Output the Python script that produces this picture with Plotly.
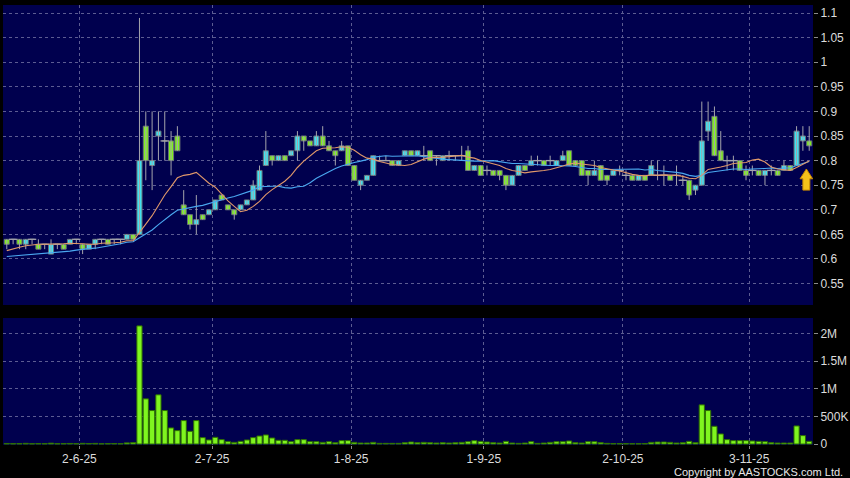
import plotly.graph_objects as go

# ---------------- data ----------------
opens = [.64, .64, .64, .63, .64, .63, .63, .61, .63, .63,
         .63, .64, .63, .62, .63, .64, .64, .64, .64, .64,
         .65, .65, .87, .79, .85, .84, .84, .85, .71, .69,
         .67, .69, .69, .70, .73, .71, .70, .70, .71, .72,
         .74, .79, .81, .80, .81, .81, .82, .85, .84, .83,
         .85, .83, .82, .82, .83, .79, .75, .76, .77, .80,
         .80, .80, .79, .81, .82, .81, .81, .82, .81, .80,
         .81, .81, .81, .82, .78, .79, .78, .78, .78, .77,
         .75, .77, .79, .79, .80, .80, .80, .79, .80, .82,
         .80, .80, .78, .77, .79, .77, .77, .78, .77, .77,
         .76, .77, .77, .77, .77, .77, .77, .76, .76, .74,
         .75, .86, .89, .82, .80, .80, .80, .78, .78, .78,
         .77, .78, .78, .78, .79, .79, .84, .84]
highs = [.64, .64, .64, .64, .64, .64, .63, .64, .63, .63,
         .64, .64, .63, .63, .64, .64, .64, .64, .64, .65,
         .65, 1.09, .90, .90, .90, .90, .86, .87, .74, .69,
         .73, .69, .70, .72, .73, .71, .70, .71, .72, .76,
         .79, .86, .81, .81, .81, .82, .86, .85, .84, .86,
         .87, .84, .82, .84, .83, .79, .76, .77, .81, .81,
         .81, .80, .80, .82, .82, .82, .83, .82, .81, .81,
         .82, .81, .83, .83, .79, .79, .79, .78, .78, .77,
         .77, .79, .79, .81, .81, .80, .81, .80, .82, .82,
         .80, .80, .78, .80, .79, .77, .78, .79, .78, .77,
         .77, .77, .80, .80, .79, .77, .79, .77, .76, .75,
         .92, .92, .91, .86, .81, .81, .80, .79, .79, .78,
         .78, .79, .78, .80, .79, .87, .87, .87]
lows = [.62, .63, .62, .62, .63, .62, .62, .61, .62, .62,
        .63, .63, .61, .62, .62, .63, .63, .63, .63, .64,
        .64, .65, .76, .74, .80, .80, .77, .82, .69, .66,
        .65, .68, .69, .70, .72, .70, .68, .70, .71, .72,
        .74, .79, .79, .80, .80, .81, .80, .82, .83, .83,
        .83, .82, .79, .82, .79, .76, .74, .76, .77, .80,
        .80, .79, .79, .81, .81, .81, .80, .80, .79, .80,
        .80, .80, .80, .78, .78, .77, .77, .77, .76, .74,
        .75, .77, .78, .79, .79, .79, .79, .79, .80, .79,
        .79, .77, .75, .77, .76, .75, .77, .77, .76, .76,
        .76, .76, .77, .76, .75, .76, .75, .75, .72, .73,
        .75, .84, .81, .80, .78, .78, .78, .76, .77, .77,
        .75, .77, .77, .78, .78, .79, .82, .82]
closes = [.63, .64, .63, .64, .64, .62, .63, .63, .63, .62,
          .64, .64, .62, .63, .64, .64, .63, .64, .64, .65,
          .64, .80, .80, .80, .86, .84, .80, .82, .69, .67,
          .68, .68, .70, .72, .72, .70, .69, .71, .72, .75,
          .78, .82, .80, .81, .80, .82, .85, .84, .83, .85,
          .83, .82, .81, .83, .79, .76, .76, .77, .81, .80,
          .80, .79, .80, .82, .81, .82, .81, .80, .81, .81,
          .81, .81, .81, .78, .79, .77, .78, .77, .77, .75,
          .77, .79, .78, .80, .80, .79, .80, .80, .81, .79,
          .79, .77, .77, .78, .76, .76, .78, .78, .77, .76,
          .77, .76, .79, .77, .77, .76, .77, .76, .73, .75,
          .84, .88, .81, .80, .80, .80, .78, .77, .78, .77,
          .78, .78, .77, .79, .78, .86, .85, .83]
volumes = [10000, 6000, 8000, 12000, 5000, 9000, 7000, 15000, 6000, 8000,
           10000, 6000, 12000, 9000, 11000, 5000, 7000, 9000, 6000, 20000,
           25000, 2140000, 818000, 606000, 891000, 606000, 291000, 242000, 424000, 230000,
           424000, 115000, 73000, 121000, 79000, 42000, 30000, 48000, 73000, 115000,
           145000, 164000, 109000, 67000, 67000, 42000, 79000, 79000, 42000, 42000,
           30000, 42000, 24000, 61000, 61000, 30000, 18000, 18000, 30000, 12000,
           12000, 12000, 12000, 24000, 36000, 24000, 30000, 24000, 18000, 24000,
           18000, 24000, 30000, 42000, 61000, 48000, 36000, 24000, 18000, 48000,
           18000, 12000, 18000, 42000, 12000, 18000, 30000, 42000, 42000, 55000,
           24000, 18000, 42000, 42000, 24000, 12000, 8000, 8000, 6000, 6000,
           6000, 8000, 30000, 36000, 36000, 30000, 18000, 24000, 48000, 24000,
           709000, 606000, 321000, 182000, 79000, 61000, 61000, 61000, 55000, 48000,
           42000, 24000, 18000, 18000, 18000, 327000, 152000, 48000]
ma10 = [.617, .621, .624, .627, .629, .630, .630, .630, .631, .631,
        .632, .632, .631, .630, .630, .632, .632, .633, .634, .637,
        .637, .653, .671, .688, .710, .730, .747, .765, .770, .772,
        .776, .764, .754, .746, .732, .718, .707, .696, .699, .707,
        .717, .731, .741, .750, .758, .770, .786, .799, .810, .820,
        .825, .825, .826, .828, .827, .821, .812, .805, .803, .798,
        .795, .792, .791, .790, .792, .798, .803, .806, .806, .807,
        .808, .810, .811, .807, .805, .800, .797, .794, .790, .784,
        .780, .778, .775, .777, .778, .780, .782, .785, .789, .793,
        .795, .793, .792, .790, .786, .783, .781, .779, .775, .772,
        .770, .769, .771, .770, .771, .771, .770, .768, .764, .763,
        .770, .782, .784, .787, .790, .794, .795, .796, .801, .803,
        .797, .787, .783, .782, .780, .786, .793, .799]
ma20 = [.605, .606, .607, .608, .609, .610, .612, .613, .614, .615,
        .616, .618, .620, .621, .622, .624, .626, .628, .631, .634,
        .635, .643, .651, .659, .670, .681, .690, .699, .702, .705,
        .707, .709, .713, .717, .721, .724, .727, .731, .735, .740,
        .747, .748, .748, .748, .745, .744, .747, .748, .755, .764,
        .771, .778, .784, .789, .793, .796, .799, .802, .807, .809,
        .810, .809, .809, .809, .810, .810, .808, .806, .805, .803,
        .802, .801, .801, .799, .799, .799, .800, .800, .798, .796,
        .794, .794, .793, .792, .792, .790, .790, .790, .790, .789,
        .788, .786, .784, .784, .782, .782, .782, .782, .782, .783,
        .783, .781, .782, .780, .779, .777, .776, .774, .770, .768,
        .770, .776, .778, .779, .781, .783, .783, .782, .783, .783,
        .784, .785, .784, .785, .785, .790, .794, .798]

date_tick_index = [12, 33, 55, 76, 98, 118]
date_tick_labels = ["2-6-25", "2-7-25", "1-8-25", "1-9-25", "2-10-25", "3-11-25"]
price_ticks = [0.55, 0.6, 0.65, 0.7, 0.75, 0.8, 0.85, 0.9, 0.95, 1.0, 1.05, 1.1]
price_tick_labels = ["0.55", "0.6", "0.65", "0.7", "0.75", "0.8", "0.85", "0.9", "0.95", "1", "1.05", "1.1"]
vol_ticks = [0, 500000, 1000000, 1500000, 2000000]
vol_tick_labels = ["0", "500K", "1M", "1.5M", "2M"]

# ---------------- styling ----------------
BG = "#00004e"
GRID = "#5c5c92"
TXT = "#dcdcdc"
CYAN = "#3fe3f2"
GREEN = "#80f020"
WICK = "#a4a4ac"
FONT = "Liberation Sans, Arial, sans-serif"

n = len(closes)
idx = list(range(n))
tick_pos = [i - 0.5 for i in date_tick_index]
xr = [-0.6, n - 0.4]

# candle pieces derived from the OHLC lists
wick_x, wick_y = [], []
for i in idx:
    wick_x += [i, i, None]
    wick_y += [lows[i], highs[i], None]
body_base = [min(o, c) for o, c in zip(opens, closes)]
body_len = [abs(c - o) for o, c in zip(opens, closes)]
body_col = [CYAN if c > o else GREEN for o, c in zip(opens, closes)]
doji_x = [i for i in idx if opens[i] == closes[i]]
doji_y = [closes[i] for i in doji_x]

fig = go.Figure()
fig.add_trace(go.Scatter(x=wick_x, y=wick_y, mode="lines", line=dict(color=WICK, width=1),
                         xaxis="x", yaxis="y", showlegend=False, hoverinfo="skip"))
fig.add_trace(go.Bar(x=idx, y=body_len, base=body_base, width=0.8,
                     marker=dict(color=body_col, line=dict(color="#6a7278", width=1)),
                     xaxis="x", yaxis="y", showlegend=False, hoverinfo="skip"))
fig.add_trace(go.Scatter(x=doji_x, y=doji_y, mode="markers",
                         marker=dict(symbol="line-ew", size=6, line=dict(color=WICK, width=1.3)),
                         xaxis="x", yaxis="y", showlegend=False, hoverinfo="skip"))
fig.add_trace(go.Scatter(x=idx, y=ma20, mode="lines", line=dict(color="#4aa8f0", width=1.1),
                         xaxis="x", yaxis="y", showlegend=False, hoverinfo="skip"))
fig.add_trace(go.Scatter(x=idx, y=ma10, mode="lines", line=dict(color="#e0986a", width=1.1),
                         xaxis="x", yaxis="y", showlegend=False, hoverinfo="skip"))
fig.add_trace(go.Bar(x=idx, y=volumes, width=0.82,
                     marker=dict(color="#7ff51f", line=dict(color="#2f7000", width=1)),
                     xaxis="x2", yaxis="y2", showlegend=False, hoverinfo="skip"))

grid = dict(showgrid=True, gridcolor=GRID, griddash="3px,3px", gridwidth=1, zeroline=False)
fig.update_layout(
    width=850, height=478,
    margin=dict(l=3, r=37, t=5, b=33, autoexpand=False),
    paper_bgcolor="#000000", plot_bgcolor=BG,
    font=dict(family=FONT, size=12, color=TXT),
    xaxis=dict(domain=[0, 1], anchor="y", range=xr, tickvals=tick_pos,
               showticklabels=False, ticks="", **grid),
    yaxis=dict(domain=[0.3182, 1], anchor="x", range=[0.5065, 1.1163], side="right",
               tickvals=price_ticks, ticktext=price_tick_labels, ticks="outside", ticklen=4,
               tickcolor="#8a8a8a", tickfont=dict(size=12, color=TXT), **grid),
    xaxis2=dict(domain=[0, 1], anchor="y2", range=xr, tickvals=tick_pos, ticktext=date_tick_labels,
                ticks="outside", ticklen=3, tickcolor="#8a8a8a",
                tickfont=dict(size=12, color=TXT), **grid),
    yaxis2=dict(domain=[0, 0.2886], anchor="x2", range=[-18000, 2283000], side="right",
                tickvals=vol_ticks, ticktext=vol_tick_labels, ticks="outside", ticklen=4,
                tickcolor="#8a8a8a", tickfont=dict(size=12, color=TXT), **grid),
)

# yellow "latest" block arrow (decoration), tip position in data units
ARROW_X, ARROW_TIP, HALF_W, SHAFT_W = n - 1.45, 0.783, 1.0, 0.55
HEAD_H, TOTAL_H = 0.020, 0.043
path = (f"M {ARROW_X - HALF_W},{ARROW_TIP - HEAD_H} L {ARROW_X},{ARROW_TIP} "
        f"L {ARROW_X + HALF_W},{ARROW_TIP - HEAD_H} L {ARROW_X + SHAFT_W},{ARROW_TIP - HEAD_H} "
        f"L {ARROW_X + SHAFT_W},{ARROW_TIP - TOTAL_H} L {ARROW_X - SHAFT_W},{ARROW_TIP - TOTAL_H} "
        f"L {ARROW_X - SHAFT_W},{ARROW_TIP - HEAD_H} Z")
fig.add_shape(type="path", path=path, xref="x", yref="y",
              fillcolor="#f5c21a", line=dict(color="#c98a00", width=1))

fig.add_annotation(x=1.0395, y=-0.061, xref="paper", yref="paper", xanchor="right", yanchor="middle",
                   text="Copyright by AASTOCKS.com Ltd.", showarrow=False,
                   font=dict(family=FONT, size=11, color="#e8e8e8"))

fig.write_html("out.html", config={"displayModeBar": False, "staticPlot": True},
               post_script="document.body.style.margin='0px';")
